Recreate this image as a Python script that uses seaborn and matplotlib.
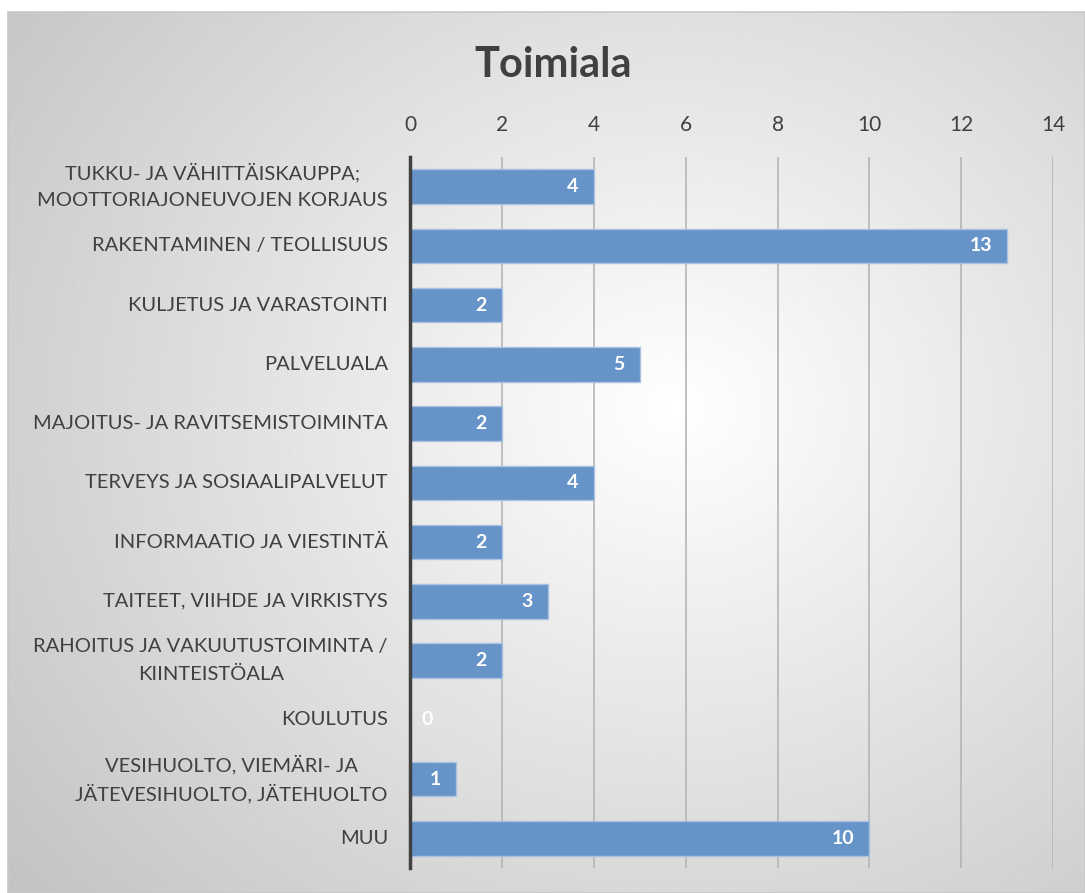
import matplotlib.pyplot as plt
import numpy as np
import pandas as pd
import seaborn as sns

sns.set_style("white")
plt.rcParams["font.family"] = ["Lato", "DejaVu Sans"]

categories = [
    "TUKKU- JA VÄHITTÄISKAUPPA;\nMOOTTORIAJONEUVOJEN KORJAUS",
    "RAKENTAMINEN / TEOLLISUUS",
    "KULJETUS JA VARASTOINTI",
    "PALVELUALA",
    "MAJOITUS- JA RAVITSEMISTOIMINTA",
    "TERVEYS JA SOSIAALIPALVELUT",
    "INFORMAATIO JA VIESTINTÄ",
    "TAITEET, VIIHDE JA VIRKISTYS",
    "RAHOITUS JA VAKUUTUSTOIMINTA /\nKIINTEISTÖALA",
    "KOULUTUS",
    "VESIHUOLTO, VIEMÄRI- JA\nJÄTEVESIHUOLTO, JÄTEHUOLTO",
    "MUU",
]
values = [4, 13, 2, 5, 2, 4, 2, 3, 2, 0, 1, 10]
ticks = [0, 2, 4, 6, 8, 10, 12, 14]

df = pd.DataFrame({"cat": categories, "val": values})

fig = plt.figure(figsize=(10.85, 8.93), dpi=100)

# radial gradient background of the chart box
bg = fig.add_axes([0.0074, 0.0, 0.9926, 0.9866], zorder=-10)
yy, xx = np.mgrid[0:1:300j, 0:1:360j]
r = np.sqrt(((xx - 0.62) / 0.75) ** 2 + ((yy - 0.45) / 0.8) ** 2)
shade = 1.0 - 0.22 * np.clip(r, 0, 1.2)
bg.imshow(shade, cmap="gray", vmin=0, vmax=1, aspect="auto", extent=[0, 1, 0, 1])
bg.set_axis_off()
fig.patches.append(plt.Rectangle((0.0074, 0.0), 0.9926, 0.9866, transform=fig.transFigure,
                                 fill=False, edgecolor="#c8c8c8", linewidth=1.2, zorder=-5))

ax = fig.add_axes([0.378, 0.028, 0.5926, 0.7962])
ax.patch.set_alpha(0)
sns.barplot(data=df, x="val", y="cat", orient="h", color="#6693c8", saturation=1,
            width=0.58, edgecolor="#a9c2e2", linewidth=1, ax=ax, zorder=3)

ax.set_xlim(0, 14)
ax.set_ylim(11.5, -0.5)
ax.set_xticks(ticks)
ax.xaxis.tick_top()
ax.tick_params(axis="x", length=0, labelsize=15, labelcolor="#404040", pad=16)
ax.tick_params(axis="y", length=0, labelleft=False)
ax.set_xlabel("")
ax.set_ylabel("")
ax.grid(axis="x", color="#b5b5b5", linewidth=1.2, zorder=0)
for s in ["top", "right", "bottom"]:
    ax.spines[s].set_visible(False)
ax.spines["left"].set_color("#404040")
ax.spines["left"].set_linewidth(2.5)
ax.spines["left"].set_zorder(5)

# category labels, one text per line so every label has the same line gap
renderer = fig.canvas.get_renderer()
pad_pt = 16
gap_pt = 20.5
for i, cat in enumerate(categories):
    lines = cat.split("\n")
    widths = []
    for line in lines:
        t = ax.text(0, 0, line, fontsize=14.5)
        widths.append(t.get_window_extent(renderer).width * 72 / fig.dpi)
        t.remove()
    wmax = max(widths)
    n = len(lines)
    for k, line in enumerate(lines):
        dy = ((n - 1) / 2 - k) * gap_pt
        ax.annotate(line, (0, i), xytext=(-pad_pt - wmax / 2, dy), textcoords="offset points",
                    ha="center", va="center", fontsize=14.5, color="#404040",
                    annotation_clip=False)

for i, v in enumerate(values):
    if v == 0:
        off, ha = 8, "left"
    else:
        off, ha = -11, "right"
    ax.annotate(str(v), (v, i), xytext=(off, 0), textcoords="offset points",
                ha=ha, va="center", color="white", fontsize=14,
                fontweight="bold", zorder=6)

fig.text(0.51, 0.927, "Toimiala", ha="center", va="center", fontsize=30,
         fontweight="bold", color="#404040")

fig.savefig("out.png", dpi=100)
